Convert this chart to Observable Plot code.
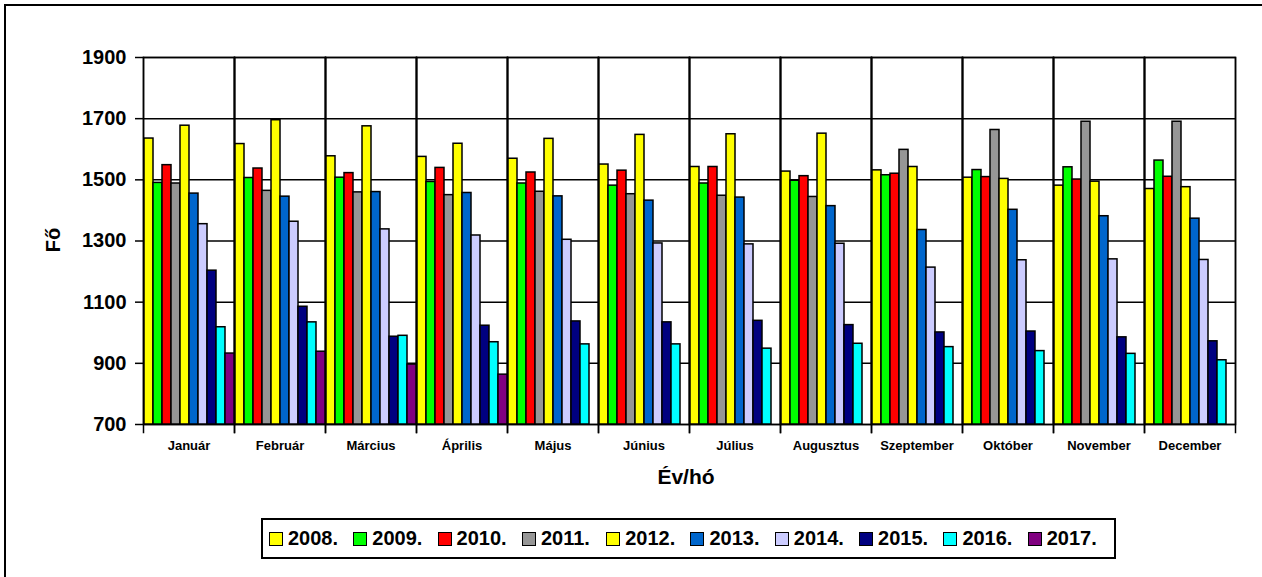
<!DOCTYPE html>
<html>
<head>
<meta charset="utf-8">
<script src="https://cdn.jsdelivr.net/npm/d3@7"></script>
<script src="https://cdn.jsdelivr.net/npm/@observablehq/plot@0.6"></script>
<style>
  html, body { margin: 0; padding: 0; background: #fff; overflow: hidden; width: 1262px; height: 577px; }
  body { position: relative; font-family: "Liberation Sans", Arial, sans-serif; }
  #outer { position: absolute; left: 4px; top: 4px; width: 1400px; height: 700px; border: 2px solid #000; box-sizing: border-box; }
  #chart { position: absolute; left: 0; top: 0; }
  #ylab { position: absolute; left: 53px; top: 240px; transform: translate(-50%, -50%) rotate(-90deg); font-weight: bold; font-size: 20px; white-space: nowrap; }
  #xlab { position: absolute; left: 686px; top: 477px; transform: translate(-50%, -50%); font-weight: bold; font-size: 21px; white-space: nowrap; }
  #legend { position: absolute; left: 261px; top: 518px; width: 855px; height: 41px; border: 2px solid #000; box-sizing: border-box; display: flex; align-items: center; padding-left: 6px; background: #fff; }
  .item { display: flex; align-items: center; width: 84.3px; flex: none; }
  .sw { width: 12px; height: 12px; border: 1.5px solid #000; margin-right: 5px; flex: none; }
  .lt { font-weight: bold; font-size: 20px; }
</style>
</head>
<body>
<div id="outer"></div>
<div id="chart"></div>
<div id="ylab">Fő</div>
<div id="xlab">Év/hó</div>
<div id="legend"></div>
<script>
const months = ["Január","Február","Március","Április","Május","Június","Július","Augusztus","Szeptember","Október","November","December"];
const years = ["2008.","2009.","2010.","2011.","2012.","2013.","2014.","2015.","2016.","2017."];
const colors = ["#FFFF00","#00FF00","#FF0000","#969696","#FFFF00","#0066CC","#CCCCFF","#000080","#00FFFF","#800080"];
const yTicks = [700, 900, 1100, 1300, 1500, 1700, 1900];

const v2008 = [1635,1617,1577,1575,1569,1550,1542,1527,1531,1507,1481,1470];
const v2009 = [1490,1506,1507,1493,1488,1481,1488,1497,1515,1532,1541,1563];
const v2010 = [1548,1537,1522,1539,1524,1530,1542,1512,1520,1509,1501,1510];
const v2011 = [1488,1464,1459,1450,1461,1453,1448,1444,1598,1663,1690,1690];
const v2012 = [1677,1695,1675,1618,1634,1647,1649,1651,1542,1503,1494,1476];
const v2013 = [1455,1445,1460,1457,1446,1432,1442,1414,1336,1402,1381,1373];
const v2014 = [1355,1363,1338,1318,1304,1292,1289,1291,1213,1237,1240,1238];
const v2015 = [1203,1085,987,1023,1037,1034,1039,1025,1001,1004,985,972];
const v2016 = [1018,1034,990,969,962,962,948,964,953,940,931,910];
const v2017 = [932,938,896,863,null,null,null,null,null,null,null,null];

const series = [v2008,v2009,v2010,v2011,v2012,v2013,v2014,v2015,v2016,v2017];
const table = [];
series.forEach((vals, i) => vals.forEach((v, m) => {
  if (v != null) table.push({year: years[i], month: months[m], value: v});
}));

const chart = Plot.plot({
  width: 1262,
  height: 500,
  marginLeft: 143,
  marginRight: 27,
  marginTop: 57,
  marginBottom: 76,
  style: {fontFamily: "'Liberation Sans', Arial, sans-serif", color: "#000", background: "transparent"},
  fx: {domain: months, padding: 0, label: null},
  x: {domain: years, padding: 0, axis: null},
  y: {domain: [700, 1900]},
  color: {domain: years, range: colors},
  marks: [
    Plot.gridY(yTicks, {stroke: "#000", strokeOpacity: 1, strokeWidth: 1.5}),
    Plot.frame({stroke: "#000", strokeWidth: 1.5}),
    Plot.frame({anchor: "left", stroke: "#000", strokeWidth: 1.5, insetBottom: -8}),
    Plot.frame({anchor: "right", stroke: "#000", strokeWidth: 1.5, insetBottom: -8}),
    Plot.barY(table, {fx: "month", x: "year", y1: 700, y2: "value", fill: "year", stroke: "#000", strokeWidth: 1.5}),
    Plot.axisY(yTicks, {tickSize: 8, tickPadding: 9, fontSize: 20, fontWeight: "bold", label: null, strokeWidth: 1.5, tickFormat: d => String(d)}),
    Plot.axisFx({anchor: "bottom", tickSize: 0, tickPadding: 16, fontSize: 13, fontWeight: "bold", label: null})
  ]
});
document.getElementById("chart").appendChild(chart);

const legend = document.getElementById("legend");
years.forEach((y, i) => {
  const it = document.createElement("div");
  it.className = "item";
  const sw = document.createElement("div");
  sw.className = "sw";
  sw.style.background = colors[i];
  const t = document.createElement("span");
  t.className = "lt";
  t.textContent = y;
  it.appendChild(sw); it.appendChild(t);
  legend.appendChild(it);
});
</script>
</body>
</html>
